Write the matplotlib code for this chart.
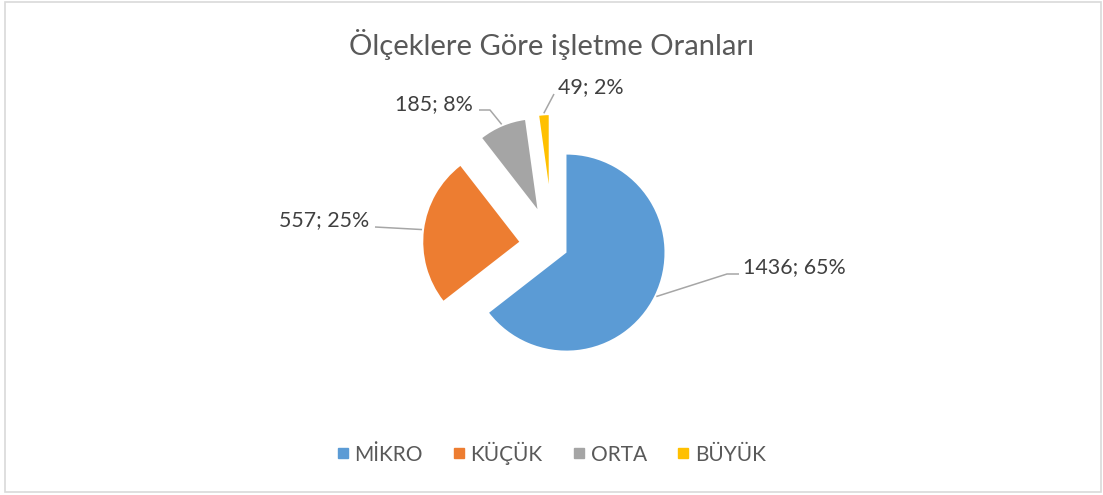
import numpy as np
import matplotlib.pyplot as plt
from matplotlib.lines import Line2D
from matplotlib.patches import Rectangle

# data
categories = ['MİKRO', 'KÜÇÜK', 'ORTA', 'BÜYÜK']
counts = [1436, 557, 185, 49]
percents = [65, 25, 8, 2]
colors = ['#5B9BD5', '#ED7D31', '#A5A5A5', '#FFC000']
title = 'Ölçeklere Göre işletme Oranları'

W, H = 1103, 495
TXT = '#595959'
plt.rcParams['font.family'] = ['Lato', 'DejaVu Sans']

# layout (pixel space, y measured from top)
center = (553, 246)
explode = [15, 34, 40, 62]
radii = [98, 96, 90, 69]   # exploded slices are shrunk, like in Excel
# (knee x, knee y, end x, end y, text x, text y, ha)
label_pos = [
    (727, 274, 739, 274, 743, 267, 'left'),
    (375, 227, 375, 227, 369, 220, 'right'),
    (490, 110, 479, 110, 473, 104, 'right'),
    (554, 94, 554, 94, 558, 87, 'left'),
]

fig = plt.figure(figsize=(W / 100, H / 100), dpi=100)
ax = fig.add_axes([0, 0, 1, 1])

wedges, _ = ax.pie(counts, explode=explode, radius=100,
                   center=(center[0], H - center[1]), startangle=90,
                   counterclock=False, colors=colors,
                   wedgeprops=dict(linewidth=0))
for w, r in zip(wedges, radii):
    w.set_radius(r)
ax.set_xlim(0, W)
ax.set_ylim(0, H)
ax.set_aspect('equal')
ax.axis('off')

for w, c, p, lp in zip(wedges, counts, percents, label_pos):
    th = np.deg2rad((w.theta1 + w.theta2) / 2)
    sx = w.center[0] + (w.r + 2) * np.cos(th)
    sy = w.center[1] + (w.r + 2) * np.sin(th)
    kx, ky, ex, ey, tx, ty, ha = lp
    ax.plot([sx, kx, ex], [sy, H - ky, H - ey], color='#A6A6A6', lw=1.1,
            solid_capstyle='butt')
    ax.text(tx, H - ty, f'{c}; {p}%', ha=ha, va='center', fontsize=15.4,
            color='#404040')

ax.text(W / 2, H - 45, title, ha='center', va='center', fontsize=21,
        color=TXT)

handles = [Line2D([], [], marker='s', ls='none', color=col, markersize=7)
           for col in colors]
fig.legend(handles, categories, loc='center', ncol=4, frameon=False,
           bbox_to_anchor=(0.5, 1 - 453 / H), fontsize=15,
           handlelength=0.5, handletextpad=0.3, columnspacing=1.5,
           labelcolor=TXT)

fig.patches.append(Rectangle((5 / W, 3 / H), 1096 / W, 490 / H,
                             transform=fig.transFigure, fill=False,
                             edgecolor='#D9D9D9', lw=1.2))

fig.savefig('out.png', dpi=100, facecolor='white')
